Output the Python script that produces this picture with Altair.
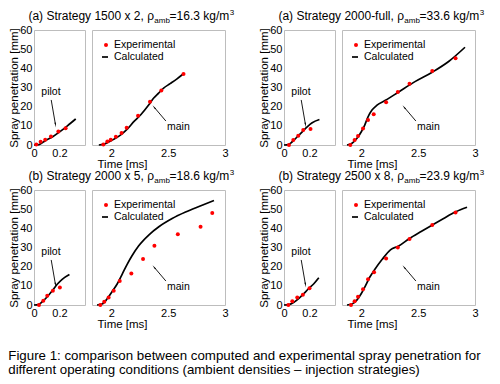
import altair as alt
import pandas as pd

FONT = "Liberation Sans"

# ---------------- text ----------------
TITLE_HEAD = ["(a) Strategy 1500 x 2, \u03c1", "(a) Strategy 2000-full, \u03c1",
              "(b) Strategy 2000 x 5, \u03c1", "(b) Strategy 2500 x 8, \u03c1"]
TITLE_SUB = "amb"
TITLE_TAIL = ["=16.3 kg/m", "=33.6 kg/m", "=18.6 kg/m", "=23.9 kg/m"]
TITLE_SUP = "3"
LEGEND_LABELS = ["Experimental", "Calculated"]
ANNOT_LABELS = ["pilot", "main"]
Y_TITLE = "Spray penetration [mm]"
X_TITLE = "Time [ms]"
CAPTION = ["Figure 1: comparison between computed and experimental spray penetration for",
           "different operating conditions (ambient densities \u2013 injection strategies)"]

# ---------------- ticks ----------------
PILOT_TICKS = [0, 0.2]
MAIN_TICKS = [2, 2.5, 3]
Y_TICKS = [0, 10, 20, 30, 40, 50, 60]

# ---------------- data (time in ms, penetration in mm) ----------------
PILOT_EXP_T = [
    [0.018, 0.052, 0.088, 0.133, 0.191, 0.248],
    [0.039, 0.073, 0.112, 0.151, 0.208],
    [0.039, 0.073, 0.104, 0.148, 0.203],
    [0.034, 0.065, 0.104, 0.148, 0.200],
]
PILOT_EXP_V = [
    [0.2, 1.7, 2.8, 4.4, 7.0, 8.7],
    [0.0, 2.6, 4.8, 7.8, 8.3],
    [0.0, 2.2, 4.8, 7.4, 9.1],
    [0.0, 1.9, 3.9, 5.3, 8.7],
]
PILOT_CALC_T = [
    [0.0, 0.04, 0.091, 0.144, 0.196, 0.262, 0.327],
    [0.0, 0.034, 0.065, 0.104, 0.143, 0.182, 0.221, 0.278],
    [0.0, 0.034, 0.065, 0.104, 0.143, 0.182, 0.221, 0.278],
    [0.0, 0.039, 0.078, 0.117, 0.156, 0.195, 0.234, 0.273],
]
PILOT_CALC_V = [
    [0.0, 0.2, 2.4, 4.2, 6.6, 10.0, 13.6],
    [0.0, 0.2, 1.7, 4.3, 6.9, 9.5, 11.6, 13.3],
    [0.0, 0.2, 1.7, 4.3, 7.4, 10.8, 13.4, 15.9],
    [0.0, 0.2, 1.4, 3.4, 6.0, 8.6, 11.1, 14.2],
]
MAIN_EXP_T = [
    [1.93, 1.965, 1.995, 2.04, 2.09, 2.135, 2.235, 2.34, 2.44, 2.635],
    [1.903, 1.941, 1.971, 2.015, 2.059, 2.109, 2.218, 2.321, 2.424, 2.624, 2.829],
    [1.903, 1.938, 1.976, 2.021, 2.074, 2.176, 2.279, 2.379, 2.585, 2.785, 2.888],
    [1.909, 1.941, 1.971, 2.015, 2.059, 2.112, 2.218, 2.321, 2.424, 2.624, 2.829],
]
MAIN_EXP_V = [
    [0.2, 1.8, 2.8, 4.3, 6.3, 9.0, 15.3, 22.6, 28.4, 37.0],
    [0.0, 2.6, 4.7, 8.6, 13.0, 16.1, 22.3, 27.7, 32.0, 38.6, 45.3],
    [0.0, 1.7, 3.9, 7.4, 12.5, 16.5, 24.0, 30.9, 36.9, 40.8, 48.0],
    [0.0, 1.9, 4.3, 8.2, 13.4, 17.1, 24.2, 30.0, 34.5, 41.8, 48.2],
]
MAIN_CALC_T = [
    [1.89, 1.93, 2.015, 2.086, 2.144, 2.2, 2.259, 2.33, 2.373, 2.416, 2.46, 2.517, 2.575, 2.635],
    [1.874, 1.918, 1.962, 2.0, 2.03, 2.059, 2.094, 2.138, 2.212, 2.329, 2.476, 2.624, 2.771, 2.912],
    [1.874, 1.918, 1.962, 2.006, 2.05, 2.094, 2.138, 2.182, 2.241, 2.329, 2.418, 2.535, 2.653, 2.771, 2.903],
    [1.874, 1.918, 1.962, 2.0, 2.035, 2.071, 2.118, 2.182, 2.256, 2.329, 2.42, 2.53, 2.62, 2.72, 2.83, 2.93],
]
MAIN_CALC_V = [
    [0.0, 0.3, 2.8, 5.4, 8.5, 12.3, 15.8, 21.0, 24.5, 27.1, 29.7, 32.0, 34.4, 37.2],
    [0.0, 0.9, 3.5, 6.9, 10.4, 14.7, 18.2, 20.8, 23.3, 27.7, 33.2, 38.0, 43.7, 51.0],
    [0.0, 0.5, 3.1, 6.9, 10.8, 15.9, 21.1, 25.7, 30.9, 36.5, 40.8, 45.1, 48.5, 51.4, 54.5],
    [0.0, 0.5, 2.7, 6.0, 9.9, 14.2, 18.5, 23.7, 28.8, 30.8, 34.6, 38.5, 41.6, 45.0, 48.6, 51.0],
]

# annotation anchors in data units: label, arrow tail, arrow tip
PILOT_ANNOT = {"lt": 0.133, "lv": 27.5, "t": 0.135, "v": 23.5, "t2": 0.168, "v2": 10.8}
MAIN_ANNOT = {"lt": 2.59, "lv": 9.6, "t": 2.48, "v": 12.5, "t2": 2.38, "v2": 19.5}

# ---------------- layout / style ----------------
PW, MW, H = 51, 133, 115
GAP_IN, GAP_COL, GAP_ROW = 7, 59, 45
RED, BLACK, FRAME = "#ff0000", "#000000", "#bdbdbd"
TITLE_CX, TITLE_Y = 97, -10.5

CW = {' ': 278, '(': 333, ')': 333, 'a': 556, 'b': 556, 'e': 556, 'f': 278, 'g': 556,
      'k': 500, 'l': 222, 'm': 833, 'r': 333, 't': 278, 'u': 556, 'x': 500, 'y': 500,
      'S': 667, ',': 278, '.': 278, '-': 333, '=': 584, '/': 278, '\u03c1': 578}


def tw(s, size):
    return sum(CW.get(c, 556) for c in s) * size / 1000.0


def one(**kw):
    return pd.DataFrame({k: [v] for k, v in kw.items()})


def title_layers(i):
    head, tail = TITLE_HEAD[i], TITLE_TAIL[i]
    total = tw(head, 12) + tw(TITLE_SUB, 8) + tw(tail, 12) + tw(TITLE_SUP, 8)
    xh = TITLE_CX - total / 2 + tw(head, 12)
    xt = xh + tw(TITLE_SUB, 8)
    xs = xt + tw(tail, 12)
    common = dict(font=FONT, color=BLACK, baseline="alphabetic")
    return [
        alt.Chart(one(s=head)).mark_text(align="right", fontSize=12, **common).encode(
            x=alt.value(xh), y=alt.value(TITLE_Y), text="s:N"),
        alt.Chart(one(s=TITLE_SUB)).mark_text(align="left", fontSize=8, **common).encode(
            x=alt.value(xh + 0.3), y=alt.value(TITLE_Y + 3), text="s:N"),
        alt.Chart(one(s=tail)).mark_text(align="left", fontSize=12, **common).encode(
            x=alt.value(xt), y=alt.value(TITLE_Y), text="s:N"),
        alt.Chart(one(s=TITLE_SUP)).mark_text(align="left", fontSize=8, **common).encode(
            x=alt.value(xs + 0.5), y=alt.value(TITLE_Y - 5), text="s:N"),
    ]


def annot_layers(a, label, x_enc, y_enc):
    txt = alt.Chart(one(t=a["lt"], v=a["lv"], s=label)).mark_text(
        font=FONT, fontSize=10.5, color=BLACK).encode(x=x_enc, y=y_enc, text="s:N")
    arrow = pd.DataFrame({"t": [a["t"]], "v": [a["v"]], "t2": [a["t2"]], "v2": [a["v2"]]})
    rule = alt.Chart(arrow).mark_rule(color=BLACK, strokeWidth=0.9).encode(
        x=x_enc, y=y_enc, x2="t2", y2="v2")
    dx = a["t2"] - a["t"]
    head_angle = 170 if dx > 0 else 320
    head = alt.Chart(pd.DataFrame({"t": [a["t2"]], "v": [a["v2"]]})).mark_point(
        shape="wedge", filled=True, size=30, color=BLACK, opacity=1, angle=head_angle).encode(
        x=x_enc, y=y_enc)
    return [rule, head, txt]


def make_panel(i):
    xp = alt.X("t:Q", scale=alt.Scale(domain=[0, 0.4], nice=False, zero=False),
               axis=alt.Axis(values=PILOT_TICKS, format="~g", title=None, labelFlush=False))
    yp = alt.Y("v:Q", scale=alt.Scale(domain=[0, 60], nice=False),
               axis=alt.Axis(values=Y_TICKS, title=Y_TITLE, labelFlush=False, titlePadding=0))
    pe = pd.DataFrame({"t": PILOT_EXP_T[i], "v": PILOT_EXP_V[i]})
    pc = pd.DataFrame({"t": PILOT_CALC_T[i], "v": PILOT_CALC_V[i]})
    pilot = alt.layer(
        alt.Chart(pc).mark_line(color=BLACK, strokeWidth=1.7, interpolate="monotone").encode(x=xp, y=yp),
        alt.Chart(pe).mark_circle(color=RED, size=16, opacity=1).encode(x=xp, y=yp),
        *annot_layers(PILOT_ANNOT, ANNOT_LABELS[0], xp, yp),
        *title_layers(i),
    ).properties(width=PW, height=H)

    xm = alt.X("t:Q", scale=alt.Scale(domain=[1.83, 3.0], nice=False, zero=False),
               axis=alt.Axis(values=MAIN_TICKS, format="~g", title=X_TITLE, labelFlush=False,
                             titleX=30, titlePadding=0))
    ym = alt.Y("v:Q", scale=alt.Scale(domain=[0, 60], nice=False), axis=None)
    me = pd.DataFrame({"t": MAIN_EXP_T[i], "v": MAIN_EXP_V[i]})
    mc = pd.DataFrame({"t": MAIN_CALC_T[i], "v": MAIN_CALC_V[i]})
    leg_common = dict(font=FONT, fontSize=10.5, color=BLACK, align="left", baseline="middle")
    main = alt.layer(
        alt.Chart(mc).mark_line(color=BLACK, strokeWidth=1.7, interpolate="monotone").encode(x=xm, y=ym),
        alt.Chart(me).mark_circle(color=RED, size=16, opacity=1).encode(x=xm, y=ym),
        *annot_layers(MAIN_ANNOT, ANNOT_LABELS[1], xm, ym),
        alt.Chart(one(s=LEGEND_LABELS[0])).mark_circle(color=RED, size=16, opacity=1).encode(
            x=alt.value(14), y=alt.value(15)),
        alt.Chart(one(s=LEGEND_LABELS[0])).mark_text(**leg_common).encode(
            x=alt.value(22), y=alt.value(15), text="s:N"),
        alt.Chart(one(s=LEGEND_LABELS[1])).mark_rule(color=BLACK, strokeWidth=1.7).encode(
            x=alt.value(10), x2=alt.value(16), y=alt.value(27)),
        alt.Chart(one(s=LEGEND_LABELS[1])).mark_text(**leg_common).encode(
            x=alt.value(22), y=alt.value(27), text="s:N"),
    ).properties(width=MW, height=H)
    return pilot, main


def spacer():
    return alt.Chart(one(s="")).mark_text(opacity=0).encode(
        x=alt.value(0), y=alt.value(0), text="s:N").properties(
        width=GAP_COL - 2 * GAP_IN, height=H,
        view=alt.ViewBackground(stroke="transparent", strokeOpacity=0))


cells = []
for r in range(2):
    p1, m1 = make_panel(2 * r)
    p2, m2 = make_panel(2 * r + 1)
    cells += [p1, m1, spacer(), p2, m2]

chart = alt.concat(*cells, columns=5, spacing=alt.RowColnumber(row=GAP_ROW, column=GAP_IN),
                   bounds="flush").properties(
    padding=0,
    title=alt.TitleParams(text=CAPTION, orient="bottom", anchor="start", frame="bounds",
                          font=FONT, fontSize=13.3, fontWeight="normal", color=BLACK,
                          offset=19, lineHeight=14),
).configure(font=FONT).configure_view(stroke=FRAME, strokeWidth=1).configure_axis(
    labelFont=FONT, titleFont=FONT, labelFontSize=11, titleFontSize=11.5,
    titleFontWeight="normal", labelColor=BLACK, titleColor=BLACK, grid=False,
    domain=False, ticks=False, labelPadding=2,
)

chart.save("out.html", embed_options={"renderer": "svg", "actions": False})
